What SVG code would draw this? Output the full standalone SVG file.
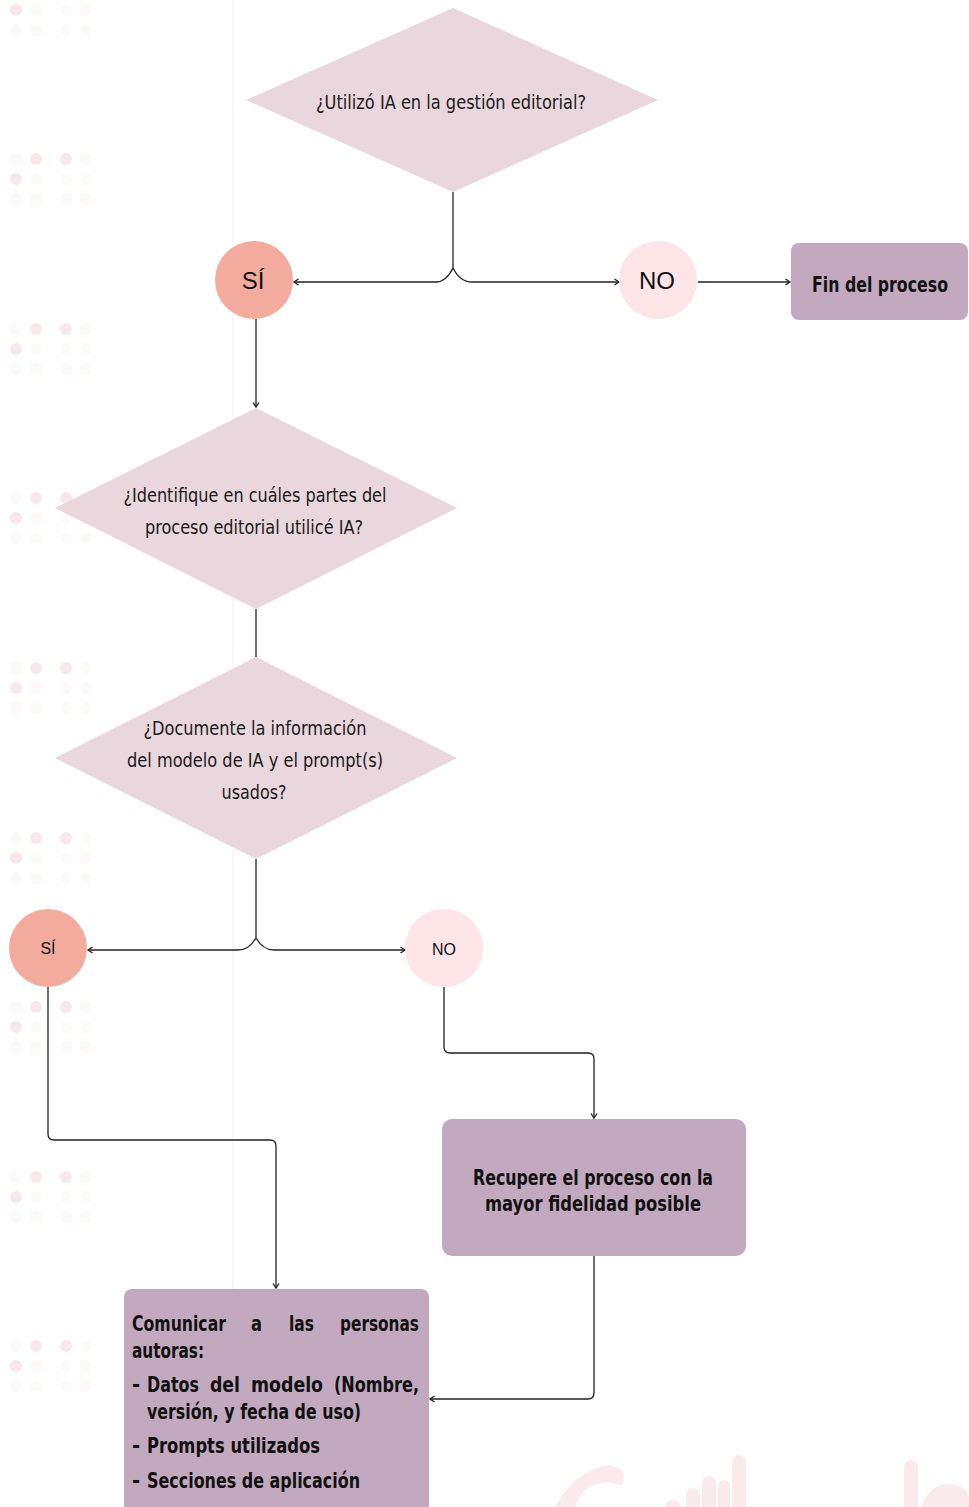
<svg xmlns="http://www.w3.org/2000/svg" width="969" height="1507" viewBox="0 0 969 1507">
<style>
.dia{fill:#ead7dd}
.si{fill:#f2ab9c}
.no{fill:#fce4e7}
.box{fill:#c3a9bf}
.q{font-family:"Liberation Sans Narrow","DejaVu Sans Condensed","Liberation Sans",sans-serif;font-size:20px;fill:#1a1a1a}
.b{font-family:"Liberation Sans Narrow","DejaVu Sans Condensed","Liberation Sans",sans-serif;font-size:22px;font-weight:bold;fill:#111}
.c{font-family:"Liberation Sans","Open Sans",sans-serif;fill:#111}
.ln{fill:none;stroke:#222;stroke-width:1.3}
.dot{fill:#f8e8ea}
.dot2{fill:#fdf9f9}
.wm{fill:#fbeaec}
</style>
<defs>
<marker id="ah" markerWidth="8" markerHeight="8" refX="6" refY="4" orient="auto" markerUnits="userSpaceOnUse">
<path d="M1.5,1 L6,4 L1.5,7" fill="none" stroke="#222" stroke-width="1.3"/>
</marker>
<g id="dots">
<circle class="dot2" cx="16" cy="0" r="6"/><circle class="dot" cx="36" cy="0" r="6"/><circle class="dot" cx="66" cy="0" r="6"/><circle class="dot2" cx="86" cy="0" r="6"/>
<circle class="dot" cx="16" cy="20" r="6"/><circle class="dot2" cx="36" cy="20" r="6"/><circle class="dot2" cx="66" cy="20" r="6"/><circle class="dot2" cx="86" cy="20" r="6"/>
<circle class="dot2" cx="16" cy="40" r="6"/><circle class="dot2" cx="36" cy="40" r="6"/><circle class="dot2" cx="66" cy="40" r="6"/><circle class="dot2" cx="86" cy="40" r="6"/>
</g>
</defs>
<rect width="969" height="1507" fill="#ffffff"/>
<g id="background">
<line x1="233" y1="0" x2="233" y2="1507" stroke="#f7f7f7" stroke-width="2"/>
<circle class="dot" cx="16" cy="10" r="6"/><circle class="dot2" cx="36" cy="10" r="6"/><circle class="dot2" cx="66" cy="10" r="6"/><circle class="dot2" cx="86" cy="10" r="6"/>
<circle class="dot2" cx="16" cy="30" r="6"/><circle class="dot2" cx="36" cy="30" r="6"/><circle class="dot2" cx="66" cy="30" r="6"/><circle class="dot2" cx="86" cy="30" r="6"/>
<use href="#dots" y="159"/>
<use href="#dots" y="329"/>
<use href="#dots" y="498"/>
<use href="#dots" y="668"/>
<use href="#dots" y="838"/>
<use href="#dots" y="1007"/>
<use href="#dots" y="1177"/>
<use href="#dots" y="1346"/>
<path class="wm" d="M555,1507 Q575,1470 610,1465 Q628,1468 622,1485 Q600,1478 585,1490 Q578,1498 575,1507 Z"/>
<rect class="wm" x="665" y="1500" width="16" height="20" rx="7"/>
<rect class="wm" x="686" y="1488" width="14" height="30" rx="7"/>
<rect class="wm" x="702" y="1476" width="14" height="40" rx="7"/>
<rect class="wm" x="718" y="1480" width="12" height="40" rx="6"/>
<rect class="wm" x="732" y="1455" width="14" height="60" rx="7"/>
<rect class="wm" x="904" y="1460" width="14" height="60" rx="7"/>
<path class="wm" d="M922,1507 Q930,1480 955,1485 Q969,1488 969,1500 L969,1507 Z"/>
</g>
<g id="connectors">
<path class="ln" d="M453,192 V268"/>
<path class="ln" d="M453,268 Q446,282 436,282 H294" marker-end="url(#ah)"/>
<path class="ln" d="M453,268 Q460,282 472,282 H619" marker-end="url(#ah)"/>
<path class="ln" d="M698,282 H790" marker-end="url(#ah)"/>
<path class="ln" d="M256,319 V407" marker-end="url(#ah)"/>
<path class="ln" d="M256,609 V657"/>
<path class="ln" d="M256,859 V938"/>
<path class="ln" d="M256,938 Q249,950 238,950 H88" marker-end="url(#ah)"/>
<path class="ln" d="M256,938 Q263,950 274,950 H405" marker-end="url(#ah)"/>
<path class="ln" d="M444,987 V1047 Q444,1053 450,1053 H588 Q594,1053 594,1059 V1118" marker-end="url(#ah)"/>
<path class="ln" d="M594,1256 V1393 Q594,1399 588,1399 H430" marker-end="url(#ah)"/>
<path class="ln" d="M48,987 V1134 Q48,1140 54,1140 H270 Q276,1140 276,1146 V1288" marker-end="url(#ah)"/>
</g>
<g id="q1">
<polygon class="dia" points="453,8 658,100 453,192 246,100"/>
<text class="q" x="451" y="109" text-anchor="middle" textLength="270" lengthAdjust="spacingAndGlyphs">¿Utilizó IA en la gestión editorial?</text>
</g>
<g id="si1">
<circle class="si" cx="254" cy="280" r="39"/>
<text class="c" x="253" y="289" font-size="24" text-anchor="middle">SÍ</text>
</g>
<g id="no1">
<circle class="no" cx="658" cy="280" r="39"/>
<text class="c" x="657" y="289" font-size="24" text-anchor="middle">NO</text>
</g>
<g id="fin">
<rect class="box" x="791" y="243" width="177" height="77" rx="8"/>
<text class="b" transform="translate(880,292) scale(0.8,1)" x="0" y="0" text-anchor="middle" textLength="170" lengthAdjust="spacingAndGlyphs">Fin del proceso</text>
</g>
<g id="q2">
<polygon class="dia" points="256,408 457,508 256,609 55,508"/>
<text class="q" x="255" y="502" text-anchor="middle" textLength="263" lengthAdjust="spacingAndGlyphs">¿Identifique en cuáles partes del</text>
<text class="q" x="254" y="534" text-anchor="middle" textLength="218" lengthAdjust="spacingAndGlyphs">proceso editorial utilicé IA?</text>
</g>
<g id="q3">
<polygon class="dia" points="256,657 457,758 256,859 55,758"/>
<text class="q" x="255" y="735" text-anchor="middle" textLength="223" lengthAdjust="spacingAndGlyphs">¿Documente la información</text>
<text class="q" x="255" y="767" text-anchor="middle" textLength="256" lengthAdjust="spacingAndGlyphs">del modelo de IA y el prompt(s)</text>
<text class="q" x="254" y="799" text-anchor="middle" textLength="65" lengthAdjust="spacingAndGlyphs">usados?</text>
</g>
<g id="si2">
<circle class="si" cx="48" cy="948" r="39"/>
<text class="c" x="48" y="954" font-size="16" text-anchor="middle">SÍ</text>
</g>
<g id="no2">
<circle class="no" cx="444" cy="948" r="39"/>
<text class="c" x="444" y="955" font-size="16" text-anchor="middle">NO</text>
</g>
<g id="recupere">
<rect class="box" x="442" y="1119" width="304" height="137" rx="10"/>
<text class="b" x="593" y="1185" text-anchor="middle" textLength="240" lengthAdjust="spacingAndGlyphs">Recupere el proceso con la</text>
<text class="b" x="593" y="1211" text-anchor="middle" textLength="216" lengthAdjust="spacingAndGlyphs">mayor fidelidad posible</text>
</g>
<g id="comunicar">
<rect class="box" x="124" y="1289" width="305" height="230" rx="8"/>
<text class="b" x="132" y="1331" textLength="94" lengthAdjust="spacingAndGlyphs">Comunicar</text>
<text class="b" x="251" y="1331" textLength="11" lengthAdjust="spacingAndGlyphs">a</text>
<text class="b" x="289" y="1331" textLength="25" lengthAdjust="spacingAndGlyphs">las</text>
<text class="b" x="340" y="1331" textLength="79" lengthAdjust="spacingAndGlyphs">personas</text>
<text class="b" x="132" y="1358" textLength="72" lengthAdjust="spacingAndGlyphs">autoras:</text>
<text class="b" x="132" y="1392">-</text>
<text class="b" x="147" y="1392" textLength="52" lengthAdjust="spacingAndGlyphs">Datos</text>
<text class="b" x="210" y="1392" textLength="30" lengthAdjust="spacingAndGlyphs">del</text>
<text class="b" x="251" y="1392" textLength="72" lengthAdjust="spacingAndGlyphs">modelo</text>
<text class="b" x="334" y="1392" textLength="85" lengthAdjust="spacingAndGlyphs">(Nombre,</text>
<text class="b" x="147" y="1419" textLength="214" lengthAdjust="spacingAndGlyphs">versión, y fecha de uso)</text>
<text class="b" x="132" y="1453">-</text>
<text class="b" x="147" y="1453" textLength="173" lengthAdjust="spacingAndGlyphs">Prompts utilizados</text>
<text class="b" x="132" y="1488">-</text>
<text class="b" x="147" y="1488" textLength="213" lengthAdjust="spacingAndGlyphs">Secciones de aplicación</text>
</g>
</svg>
